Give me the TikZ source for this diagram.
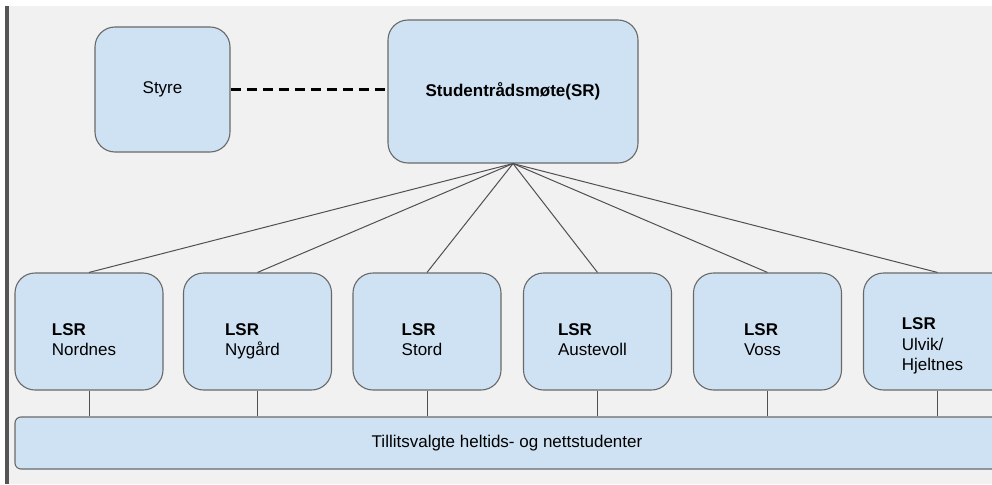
\documentclass[tikz,border=0pt]{standalone}
\usepackage{fontspec}
\setmainfont{Liberation Sans}
\definecolor{pagegrey}{RGB}{240,241,240}
\definecolor{rulegrey}{RGB}{85,85,85}
\definecolor{boxblue}{RGB}{207,226,243}
\definecolor{edgegrey}{RGB}{105,105,105}
\definecolor{linkgrey}{RGB}{80,80,80}
\newcommand\lsrtop[1][34pt]{\rule{0pt}{#1}}

\begin{document}
\begin{tikzpicture}[
             x              = 1pt,
             y              = -1pt,
             box/.style     = {draw=edgegrey, fill=boxblue, line width=1.1pt,
                               rounded corners=20pt,
                               font=\fontsize{17}{20.5}\selectfont},
             lsr/.style     = {box, minimum width=148pt, minimum height=117pt,
                               align=left,
                               execute at end node=\strut\hspace*{10pt}},
             link/.style    = {draw=linkgrey, line width=1pt}]
             \useasboundingbox (0,0) rectangle (992,484);
             \clip (0,0) rectangle (992,484);
             \fill [white] (0,0) rectangle (992,484);
             \fill [pagegrey] (9,6) rectangle (992,484);
             \fill [rulegrey] (5,6) rectangle (9,484);
             \node [box, minimum width=135pt, minimum height=125pt]
                   (styre) at (162.5,89.5) {Styre};
             \node [box, minimum width=250pt, minimum height=143pt]
                   (sr) at (513,91.5) {\textbf{Studentrådsmøte(SR)}};
             \node [lsr] (nordnes)   at (89,331.5)    {\lsrtop\textbf{LSR}\\Nordnes};
             \node [lsr] (nygard)    at (257.5,331.5) {\lsrtop\textbf{LSR}\\Nygård};
             \node [lsr] (stord)     at (427,331.5)   {\lsrtop\textbf{LSR}\\Stord};
             \node [lsr] (austevoll) at (597.5,331.5) {\lsrtop\textbf{LSR}\\Austevoll};
             \node [lsr] (voss)      at (767.5,331.5) {\lsrtop\textbf{LSR}\\Voss};
             \node [lsr] (ulvik)     at (937.5,331.5)
                   {\lsrtop[44pt]\textbf{LSR}\\Ulvik/\\Hjeltnes};
             \node [box, rounded corners=6pt, minimum width=984pt,
                    minimum height=52pt]
                   (tillit) at (507,443) {Tillitsvalgte heltids- og nettstudenter};
             \draw [line width=2.4pt, dash pattern=on 10pt off 6pt]
                   (styre.east) -- (styre.east -| sr.west);
             \draw [link] (sr.south) -- (nordnes.north);
             \draw [link] (sr.south) -- (nygard.north);
             \draw [link] (sr.south) -- (stord.north);
             \draw [link] (sr.south) -- (austevoll.north);
             \draw [link] (sr.south) -- (voss.north);
             \draw [link] (sr.south) -- (ulvik.north);
             \draw [link] (nordnes.south)   -- (nordnes.south |- tillit.north);
             \draw [link] (nygard.south)    -- (nygard.south |- tillit.north);
             \draw [link] (stord.south)     -- (stord.south |- tillit.north);
             \draw [link] (austevoll.south) -- (austevoll.south |- tillit.north);
             \draw [link] (voss.south)      -- (voss.south |- tillit.north);
             \draw [link] (ulvik.south)     -- (ulvik.south |- tillit.north);
    \end{tikzpicture}
\end{document}
